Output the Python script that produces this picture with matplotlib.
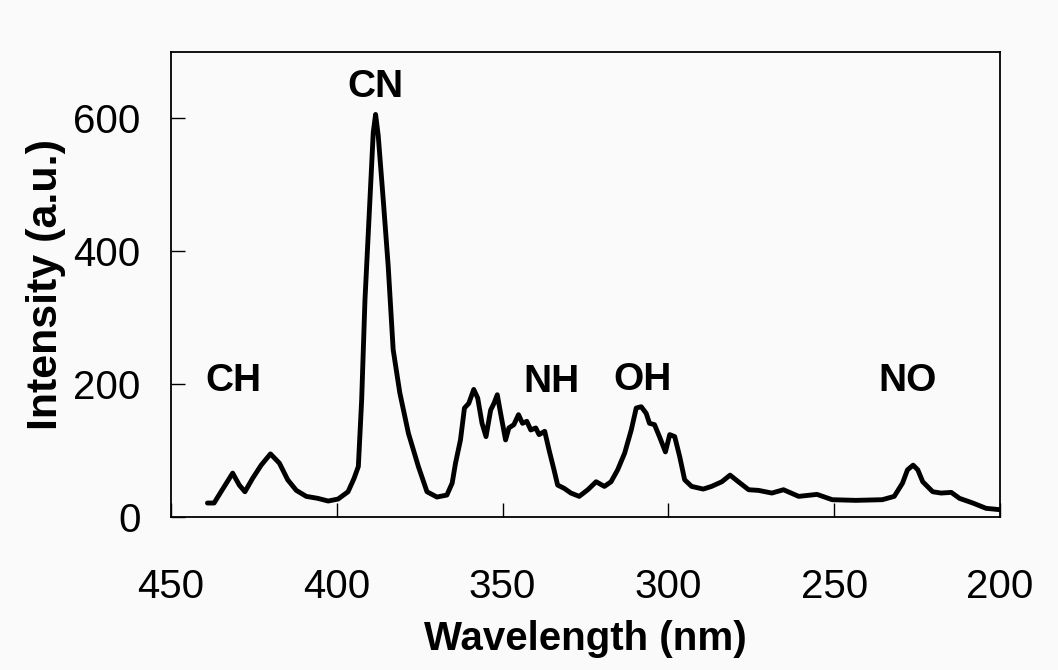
import matplotlib
matplotlib.use("Agg")
import matplotlib.pyplot as plt

plt.rcParams['font.family'] = ['Liberation Sans', 'DejaVu Sans']

# --- spectrum ---
wavelength = [439.0, 437.0, 434.9, 431.4, 429.4, 427.7, 425.4, 422.8, 420.0, 417.3,
              414.8, 412.2, 409.2, 405.7, 402.6, 399.6, 396.6, 394.8, 393.5, 392.5,
              391.5, 390.0, 389.0, 388.3, 387.5, 386.0, 384.5, 383.0, 381.0, 378.4,
              375.4, 372.8, 369.8, 366.8, 365.2, 364.2, 362.7, 361.5, 360.2, 358.7,
              357.5, 356.2, 355.0, 353.6, 352.6, 351.6, 350.6, 349.1, 348.1, 346.6,
              345.2, 344.0, 342.7, 341.5, 340.0, 339.0, 337.3, 336.0, 334.5, 333.4,
              331.4, 329.4, 326.9, 324.3, 321.8, 319.3, 317.3, 315.3, 313.2, 311.2,
              309.7, 308.2, 306.7, 305.7, 304.2, 302.7, 300.9, 299.6, 298.1, 296.6,
              295.1, 293.0, 289.5, 287.0, 283.9, 281.4, 278.9, 275.8, 272.8, 268.8,
              265.3, 260.7, 255.2, 250.6, 243.5, 235.5, 231.9, 229.4, 227.9, 226.2,
              224.8, 223.3, 220.3, 217.8, 214.7, 212.2, 208.2, 204.2, 200.1]
intensity = [21, 21, 38, 66, 48, 38, 58, 78, 95, 81,
             56, 40, 31, 28, 24, 27, 38, 58, 76, 176,
             327, 478, 579, 606, 574, 478, 378, 252, 187, 126,
             76, 38, 30, 33, 51, 81, 116, 164, 171, 192,
             179, 141, 121, 161, 171, 184, 156, 116, 134, 139,
             154, 141, 144, 131, 134, 124, 129, 101, 71, 48,
             43, 36, 31, 41, 53, 46, 53, 71, 96, 131,
             164, 166, 156, 141, 139, 121, 98, 124, 121, 91,
             56, 46, 42, 46, 53, 63, 53, 41, 40, 36,
             41, 31, 34, 26, 25, 26, 31, 51, 71, 78,
             71, 53, 38, 36, 37, 28, 21, 13, 11]

band_names = ['CH', 'CN', 'NH', 'OH', 'NO']
band_x = [431.2, 388.2, 335.2, 307.9, 227.9]
band_y = [205, 647, 203, 206, 205]

x_ticks = [450, 400, 350, 300, 250, 200]
y_ticks = [0, 200, 400, 600]

bg = '#fafafa'
fig = plt.figure(figsize=(10.58, 6.7), dpi=100, facecolor=bg)
ax = fig.add_axes([0.1616, 0.2284, 0.7836, 0.694])
ax.set_facecolor(bg)

ax.plot(wavelength, intensity, color='black', linewidth=3.5,
        solid_joinstyle='round', solid_capstyle='round')

for name, x, y in zip(band_names, band_x, band_y):
    ax.text(x, y, name, ha='center', va='center', fontsize=28, fontweight='bold')

ax.set_xlim(450, 200)
ax.set_ylim(0, 700)
ax.set_xticks(x_ticks)
ax.set_yticks(y_ticks)
ax.tick_params(direction='in', length=10, width=1, labelsize=29)
ax.tick_params(axis='y', pad=22)
ax.tick_params(axis='x', pad=37)
for s in ax.spines.values():
    s.set_linewidth(1.3)

ax.set_xlabel('Wavelength (nm)', fontsize=29, fontweight='bold', labelpad=10)
ax.set_ylabel('Intensity (a.u.)', fontsize=31, fontweight='bold', labelpad=5)

fig.savefig('out.png', dpi=100, facecolor=bg)
